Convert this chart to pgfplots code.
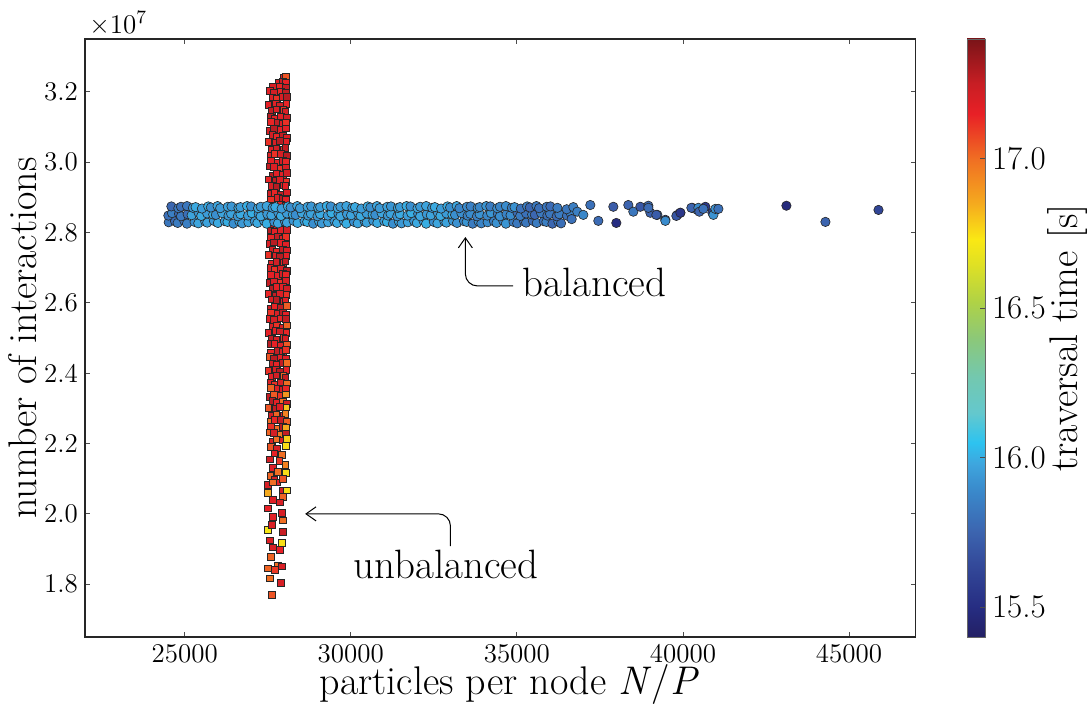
\documentclass[border=0pt]{standalone}
\usepackage{pgfplots}
\usepackage{pgfplotstable}
\pgfplotsset{compat=1.18}
\usetikzlibrary{arrows.meta}

\pgfplotsset{colormap={refjet}{
 rgb255(0pt)=(35,31,100); rgb255(10pt)=(38,45,130); rgb255(25pt)=(52,75,155);
 rgb255(35pt)=(60,100,175); rgb255(50pt)=(58,140,205); rgb255(58pt)=(62,166,222);
 rgb255(65pt)=(45,195,240); rgb255(75pt)=(100,200,205); rgb255(87pt)=(115,200,175);
 rgb255(100pt)=(140,200,120); rgb255(112pt)=(175,210,70); rgb255(125pt)=(225,225,35);
 rgb255(133pt)=(250,232,20); rgb255(145pt)=(245,170,30); rgb255(160pt)=(240,110,35);
 rgb255(175pt)=(232,32,38); rgb255(185pt)=(200,30,36); rgb255(200pt)=(122,20,24)}}

% same colour scale as a shading for the colour bar (15.4 at 25bp, 17.4 at 75bp)
\pgfdeclareverticalshading{cbar}{100bp}{
 rgb(0bp)=(0.137,0.122,0.392); rgb(25bp)=(0.137,0.122,0.392);
 rgb(27.5bp)=(0.149,0.176,0.510); rgb(31.25bp)=(0.204,0.294,0.608);
 rgb(33.75bp)=(0.235,0.392,0.686); rgb(37.5bp)=(0.227,0.549,0.804);
 rgb(39.5bp)=(0.243,0.651,0.871); rgb(41.25bp)=(0.176,0.765,0.941);
 rgb(43.75bp)=(0.392,0.784,0.804); rgb(46.75bp)=(0.451,0.784,0.686);
 rgb(50bp)=(0.549,0.784,0.471); rgb(53bp)=(0.686,0.824,0.275);
 rgb(56.25bp)=(0.882,0.882,0.137); rgb(58.25bp)=(0.980,0.910,0.078);
 rgb(61.25bp)=(0.961,0.667,0.118); rgb(65bp)=(0.941,0.431,0.137);
 rgb(68.75bp)=(0.910,0.125,0.149); rgb(71.25bp)=(0.784,0.118,0.141);
 rgb(75bp)=(0.478,0.078,0.094); rgb(100bp)=(0.478,0.078,0.094)}

% unbalanced runs: x = particles per node, y = interactions, c = traversal time
\pgfplotstableread{
x y c
27990 3.240e7 17.20
28055 3.243e7 17.05
27830 3.226e7 17.18
27960 3.228e7 17.24
28050 3.225e7 17.15
27660 3.213e7 17.20
27860 3.214e7 17.14
28040 3.212e7 17.26
27565 3.203e7 17.17
27690 3.198e7 17.22
27900 3.201e7 17.14
28045 3.196e7 17.26
27640 3.184e7 17.19
27770 3.181e7 17.12
27960 3.186e7 17.20
28065 3.185e7 17.28
27520 3.162e7 17.16
27735 3.165e7 17.17
27875 3.160e7 17.22
28060 3.166e7 17.14
27630 3.145e7 17.26
27760 3.150e7 17.19
27970 3.149e7 17.12
28030 3.144e7 17.20
27575 3.129e7 17.28
27700 3.124e7 17.16
27890 3.130e7 17.17
28070 3.127e7 17.22
27585 3.114e7 17.14
27805 3.113e7 17.26
27945 3.108e7 17.19
28045 3.111e7 17.12
27565 3.088e7 17.20
27690 3.094e7 17.28
27900 3.091e7 17.16
28045 3.096e7 17.17
27640 3.077e7 17.22
27770 3.072e7 17.14
27960 3.075e7 17.26
28065 3.070e7 17.19
27520 3.058e7 17.12
27735 3.055e7 17.20
27875 3.060e7 17.28
28060 3.059e7 17.16
27630 3.036e7 17.17
27760 3.039e7 17.22
27970 3.034e7 17.14
28030 3.040e7 17.26
27575 3.019e7 17.19
27700 3.024e7 17.12
27890 3.023e7 17.20
28070 3.018e7 17.28
27585 3.003e7 17.16
27805 2.998e7 17.17
27945 3.004e7 17.22
28045 3.001e7 17.14
27565 2.988e7 17.26
27690 2.987e7 17.19
27900 2.982e7 17.12
28045 2.985e7 17.20
27640 2.962e7 17.28
27770 2.968e7 17.16
27960 2.965e7 17.17
28065 2.970e7 17.22
27520 2.951e7 17.14
27735 2.946e7 17.26
27875 2.949e7 17.19
28060 2.944e7 17.12
27630 2.932e7 17.20
27760 2.929e7 17.28
27970 2.934e7 17.16
28030 2.933e7 17.17
27575 2.910e7 17.22
27700 2.913e7 17.14
27890 2.908e7 17.26
28070 2.914e7 17.19
27585 2.893e7 17.12
27805 2.898e7 17.20
27945 2.897e7 17.28
28045 2.892e7 17.16
27565 2.877e7 17.17
27690 2.872e7 17.22
27900 2.878e7 17.14
28045 2.875e7 17.26
27640 2.862e7 17.19
27770 2.861e7 17.12
27960 2.856e7 17.20
28065 2.859e7 17.28
27520 2.836e7 17.16
27735 2.842e7 17.17
27875 2.839e7 17.22
28060 2.844e7 17.14
27630 2.825e7 17.26
27760 2.820e7 17.19
27970 2.823e7 17.12
28030 2.818e7 17.20
27575 2.806e7 17.28
27700 2.803e7 17.16
27890 2.808e7 17.17
28070 2.807e7 17.22
27585 2.784e7 17.14
27805 2.787e7 17.26
27945 2.782e7 17.19
28045 2.788e7 17.12
27565 2.767e7 17.20
27690 2.772e7 17.28
27900 2.771e7 17.16
28045 2.766e7 17.17
27640 2.751e7 17.22
27770 2.746e7 17.14
27960 2.752e7 17.26
28065 2.749e7 17.19
27520 2.736e7 17.12
27735 2.735e7 17.20
27875 2.730e7 17.28
28060 2.733e7 17.16
27630 2.710e7 17.17
27760 2.716e7 17.22
27970 2.713e7 17.14
28030 2.718e7 17.26
27575 2.699e7 17.19
27700 2.694e7 17.12
27890 2.697e7 17.20
28070 2.692e7 17.28
27585 2.680e7 17.16
27805 2.677e7 17.17
27945 2.682e7 17.22
28045 2.681e7 17.14
27565 2.658e7 17.26
27690 2.661e7 17.19
27900 2.656e7 17.12
28045 2.662e7 17.20
27640 2.641e7 17.28
27770 2.646e7 17.16
27960 2.645e7 17.17
28065 2.640e7 17.22
27520 2.625e7 17.14
27735 2.620e7 17.26
27875 2.626e7 17.19
28060 2.623e7 17.12
27630 2.610e7 17.20
27760 2.609e7 17.28
27970 2.604e7 17.16
28030 2.607e7 17.17
27575 2.584e7 17.22
27700 2.590e7 17.14
27890 2.587e7 17.26
28070 2.592e7 17.03
27585 2.573e7 17.12
27805 2.568e7 17.20
27945 2.571e7 17.28
28045 2.566e7 17.16
27565 2.554e7 17.17
27690 2.551e7 17.22
27900 2.556e7 17.14
28045 2.555e7 17.26
27640 2.532e7 17.19
27770 2.535e7 17.12
27960 2.530e7 17.20
28065 2.536e7 17.02
27520 2.515e7 17.16
27735 2.520e7 17.17
27875 2.519e7 17.22
28060 2.514e7 17.14
27630 2.499e7 17.26
27760 2.494e7 17.19
27970 2.500e7 17.12
28030 2.497e7 17.20
27575 2.484e7 17.28
27700 2.483e7 17.16
27890 2.478e7 17.17
28070 2.481e7 17.04
27585 2.458e7 17.14
27805 2.464e7 17.26
27945 2.461e7 17.19
28045 2.466e7 17.12
27565 2.447e7 17.05
27690 2.442e7 17.28
27900 2.445e7 17.16
28045 2.440e7 17.17
27640 2.428e7 17.22
27770 2.425e7 17.14
27960 2.430e7 17.26
28065 2.429e7 17.00
27520 2.406e7 17.12
27735 2.409e7 17.20
27875 2.404e7 17.28
28060 2.410e7 17.16
27630 2.389e7 17.17
27760 2.394e7 17.22
27970 2.393e7 17.03
28030 2.388e7 17.26
27575 2.373e7 17.19
27700 2.368e7 17.12
27890 2.374e7 17.20
28070 2.371e7 17.00
27585 2.358e7 17.02
27805 2.357e7 17.17
27945 2.352e7 17.22
28045 2.355e7 17.14
27565 2.332e7 17.26
27690 2.338e7 17.04
27900 2.335e7 17.12
28045 2.340e7 16.90
27640 2.321e7 17.28
27770 2.316e7 17.16
27960 2.319e7 17.00
28065 2.314e7 17.22
27520 2.302e7 17.05
27735 2.299e7 17.26
27875 2.304e7 17.19
28060 2.303e7 16.80
27630 2.280e7 17.20
27760 2.283e7 17.02
27970 2.278e7 17.16
28030 2.284e7 16.95
27575 2.263e7 17.00
27700 2.268e7 17.14
27890 2.267e7 17.26
28070 2.262e7 17.03
27585 2.247e7 17.12
27805 2.242e7 17.00
27945 2.248e7 17.28
28045 2.245e7 16.85
27565 2.232e7 17.02
27690 2.231e7 17.22
27900 2.226e7 16.98
28045 2.229e7 17.26
27640 2.206e7 17.19
27770 2.212e7 17.00
27960 2.209e7 17.20
28065 2.214e7 16.78
27600 2.190e7 17.05
27780 2.185e7 17.20
28054 2.193e7 16.75
27700 2.172e7 17.15
27930 2.168e7 17.00
27560 2.155e7 17.22
27850 2.150e7 17.10
28030 2.140e7 16.95
27650 2.132e7 17.18
27800 2.120e7 17.00
28054 2.116e7 16.75
27580 2.108e7 17.02
27700 2.096e7 17.20
27783 2.090e7 17.15
27960 2.100e7 17.05
27512 2.082e7 17.20
27663 2.090e7 17.00
27964 2.067e7 17.22
28084 2.067e7 16.75
27512 2.059e7 16.85
27964 2.048e7 17.02
27663 2.039e7 17.18
27873 2.033e7 17.20
27512 2.016e7 17.15
27934 2.002e7 17.20
27663 1.991e7 17.17
27964 1.982e7 17.00
27512 1.954e7 16.72
27633 1.968e7 17.20
27964 1.948e7 17.25
27572 1.925e7 17.18
27934 1.917e7 16.75
27663 1.905e7 17.20
27873 1.897e7 17.15
27602 1.877e7 17.02
27813 1.854e7 17.00
27934 1.851e7 17.20
27512 1.845e7 17.02
27723 1.840e7 17.10
27572 1.817e7 17.00
27904 1.803e7 17.20
27633 1.769e7 17.05
}\redtab

% balanced runs
\pgfplotstableread{
x y c
24520 2.829e7 15.82
24710 2.832e7 15.78
24790 2.827e7 15.84
24990 2.833e7 15.80
25070 2.825e7 15.85
25300 2.830e7 15.91
25410 2.826e7 15.98
25620 2.831e7 15.94
25680 2.828e7 15.97
25880 2.833e7 15.93
26000 2.827e7 15.99
26210 2.832e7 15.95
26290 2.830e7 16.00
26470 2.825e7 15.91
26650 2.831e7 15.98
26730 2.826e7 15.94
26920 2.829e7 15.97
27110 2.832e7 15.93
27190 2.827e7 15.99
27390 2.833e7 15.95
27470 2.825e7 16.00
27700 2.830e7 15.91
27810 2.826e7 15.98
28020 2.831e7 15.94
28080 2.828e7 15.97
28280 2.833e7 15.93
28400 2.827e7 15.99
28610 2.832e7 15.95
28690 2.830e7 16.00
28870 2.825e7 15.91
29050 2.831e7 15.98
29130 2.826e7 15.94
29320 2.829e7 15.97
29510 2.832e7 15.93
29590 2.827e7 15.99
29790 2.833e7 15.95
29870 2.825e7 16.00
30100 2.830e7 15.91
30210 2.826e7 15.98
30420 2.831e7 15.94
30480 2.828e7 15.97
30680 2.833e7 15.93
30800 2.827e7 15.99
31010 2.832e7 15.95
31090 2.830e7 16.00
31270 2.825e7 15.91
31450 2.831e7 15.98
31530 2.826e7 15.94
31720 2.829e7 15.97
31910 2.832e7 15.93
31990 2.827e7 15.99
32190 2.833e7 15.95
32270 2.825e7 16.00
32500 2.830e7 15.91
32610 2.826e7 15.98
32820 2.831e7 15.94
32880 2.828e7 15.97
33080 2.833e7 15.93
33200 2.827e7 15.92
33410 2.832e7 15.88
33490 2.830e7 15.93
33670 2.825e7 15.84
33850 2.831e7 15.91
33930 2.826e7 15.87
34120 2.829e7 15.90
34310 2.832e7 15.86
34390 2.827e7 15.92
34590 2.833e7 15.88
34670 2.825e7 15.93
34900 2.830e7 15.84
35010 2.826e7 15.83
35220 2.831e7 15.79
35280 2.828e7 15.82
35480 2.833e7 15.78
35600 2.827e7 15.84
35810 2.832e7 15.80
35890 2.830e7 15.85
36070 2.825e7 15.76
36250 2.831e7 15.83
36330 2.826e7 15.79
24510 2.848e7 15.80
24620 2.855e7 15.85
24830 2.853e7 15.76
24890 2.846e7 15.83
25090 2.852e7 15.79
25210 2.849e7 15.97
25420 2.856e7 15.93
25500 2.847e7 15.99
25680 2.854e7 15.95
25860 2.851e7 16.00
25940 2.850e7 15.91
26130 2.855e7 15.98
26320 2.848e7 15.94
26400 2.853e7 15.97
26600 2.846e7 15.93
26680 2.852e7 15.99
26910 2.848e7 15.95
27020 2.855e7 16.00
27230 2.853e7 15.91
27290 2.846e7 15.98
27490 2.852e7 15.94
27610 2.849e7 15.97
27820 2.856e7 15.93
27900 2.847e7 15.99
28080 2.854e7 15.95
28260 2.851e7 16.00
28340 2.850e7 15.91
28530 2.855e7 15.98
28720 2.848e7 15.94
28800 2.853e7 15.97
29000 2.846e7 15.93
29080 2.852e7 15.99
29310 2.848e7 15.95
29420 2.855e7 16.00
29630 2.853e7 15.91
29690 2.846e7 15.98
29890 2.852e7 15.94
30010 2.849e7 15.97
30220 2.856e7 15.93
30300 2.847e7 15.99
30480 2.854e7 15.95
30660 2.851e7 16.00
30740 2.850e7 15.91
30930 2.855e7 15.98
31120 2.848e7 15.94
31200 2.853e7 15.97
31400 2.846e7 15.93
31480 2.852e7 15.99
31710 2.848e7 15.95
31820 2.855e7 16.00
32030 2.853e7 15.91
32090 2.846e7 15.98
32290 2.852e7 15.94
32410 2.849e7 15.97
32620 2.856e7 15.93
32700 2.847e7 15.99
32880 2.854e7 15.95
33060 2.851e7 16.00
33140 2.850e7 15.91
33330 2.855e7 15.91
33520 2.848e7 15.87
33600 2.853e7 15.90
33800 2.846e7 15.86
33880 2.852e7 15.92
34110 2.848e7 15.88
34220 2.855e7 15.93
34430 2.853e7 15.84
34490 2.846e7 15.91
34690 2.852e7 15.87
34810 2.849e7 15.90
35020 2.856e7 15.78
35100 2.847e7 15.84
35280 2.854e7 15.80
35460 2.851e7 15.85
35540 2.850e7 15.76
35730 2.855e7 15.83
35920 2.848e7 15.79
36000 2.853e7 15.82
36200 2.846e7 15.78
36280 2.852e7 15.84
36510 2.848e7 15.80
36620 2.855e7 15.85
24600 2.874e7 15.76
24810 2.869e7 15.83
24890 2.873e7 15.79
25070 2.875e7 15.82
25250 2.870e7 15.93
25330 2.872e7 15.99
25520 2.868e7 15.95
25710 2.874e7 16.00
25790 2.871e7 15.91
25990 2.875e7 15.98
26070 2.869e7 15.94
26300 2.873e7 15.97
26410 2.874e7 15.93
26620 2.870e7 15.99
26680 2.872e7 15.95
26880 2.875e7 16.00
27000 2.874e7 15.91
27210 2.869e7 15.98
27290 2.873e7 15.94
27470 2.875e7 15.97
27650 2.870e7 15.93
27730 2.872e7 15.99
27920 2.868e7 15.95
28110 2.874e7 16.00
28190 2.871e7 15.91
28390 2.875e7 15.98
28470 2.869e7 15.94
28700 2.873e7 15.97
28810 2.874e7 15.93
29020 2.870e7 15.99
29080 2.872e7 15.95
29280 2.875e7 16.00
29400 2.874e7 15.91
29610 2.869e7 15.98
29690 2.873e7 15.94
29870 2.875e7 15.97
30050 2.870e7 15.93
30130 2.872e7 15.99
30320 2.868e7 15.95
30510 2.874e7 16.00
30590 2.871e7 15.91
30790 2.875e7 15.98
30870 2.869e7 15.94
31100 2.873e7 15.97
31210 2.874e7 15.93
31420 2.870e7 15.99
31480 2.872e7 15.95
31680 2.875e7 16.00
31800 2.874e7 15.91
32010 2.869e7 15.98
32090 2.873e7 15.94
32270 2.875e7 15.97
32450 2.870e7 15.93
32530 2.872e7 15.99
32720 2.868e7 15.95
32910 2.874e7 16.00
32990 2.871e7 15.91
33190 2.875e7 15.98
33270 2.869e7 15.87
33500 2.873e7 15.90
33610 2.874e7 15.86
33820 2.870e7 15.92
33880 2.872e7 15.88
34080 2.875e7 15.93
34200 2.874e7 15.84
34410 2.869e7 15.91
34490 2.873e7 15.87
34670 2.875e7 15.90
34850 2.870e7 15.86
34930 2.872e7 15.92
35120 2.868e7 15.80
35310 2.874e7 15.85
35390 2.871e7 15.76
35590 2.875e7 15.83
35670 2.869e7 15.79
35900 2.873e7 15.82
36010 2.874e7 15.78
36220 2.870e7 15.84
36500 2.866e7 15.82
36650 2.838e7 15.80
36700 2.872e7 15.85
36819 2.859e7 15.85
37211 2.878e7 15.80
37000 2.850e7 15.88
37452 2.833e7 15.78
37904 2.873e7 15.72
37994 2.827e7 15.50
38355 2.878e7 15.75
38506 2.859e7 15.82
38717 2.873e7 15.70
38958 2.876e7 15.78
39018 2.856e7 15.74
39229 2.850e7 15.80
39470 2.836e7 15.68
39831 2.850e7 15.55
39922 2.856e7 15.70
40283 2.870e7 15.75
40434 2.864e7 15.82
38958 2.870e7 15.78
39199 2.850e7 15.72
39470 2.833e7 15.90
39801 2.847e7 15.70
39922 2.856e7 15.55
40253 2.870e7 15.75
40464 2.870e7 15.90
40494 2.859e7 15.75
40675 2.873e7 15.55
40614 2.867e7 15.80
40886 2.856e7 15.60
40916 2.850e7 15.92
40976 2.867e7 15.92
41066 2.867e7 15.80
43114 2.876e7 15.48
44289 2.830e7 15.75
45886 2.864e7 15.62
}\bluetab

\begin{document}
\begin{tikzpicture}
\useasboundingbox (-42.5pt,-33.5pt) rectangle (503.5pt,318.5pt);
\begin{axis}[
  at={(0,0)}, anchor=south west,
  scale only axis, width=415.25pt, height=299pt,
  xmin=22000, xmax=47000, ymin=1.65e7, ymax=3.35e7,
  xtick={25000,30000,35000,40000,45000},
  ytick={1.8e7,2e7,2.2e7,2.4e7,2.6e7,2.8e7,3e7,3.2e7},
  yticklabels={1.8,2.0,2.2,2.4,2.6,2.8,3.0,3.2},
  scaled x ticks=false, scaled y ticks=false,
  xticklabel style={/pgf/number format/1000 sep={}, /pgf/number format/assume math mode=true, inner sep=0.5pt, yshift=-3pt},
  tick align=inside, major tick length=2.5pt,
  tick style={black!70, line width=0.4pt},
  axis line style={black!85, line width=0.7pt},
  tick label style={font=\fontsize{13.5}{16}\selectfont},
  label style={font=\fontsize{20}{24}\selectfont},
  xlabel={particles per node \textit{N}/\textit{P}},
  xlabel style={at={(rel axis cs:0.5108,-0.097)}, anchor=base, inner sep=0pt},
  ylabel={number of interactions},
  ylabel style={at={(rel axis cs:-0.0578,0.5)}, anchor=base, inner sep=0pt},
  colormap name=refjet,
  point meta min=15.4, point meta max=17.4,
]
\addplot[scatter, only marks, mark=square*, mark size=1.7pt, scatter src=explicit,
  scatter/use mapped color={draw=black!85, fill=mapped color},
  mark options={line width=0.3pt}]
  table[x=x, y=y, meta=c] {\redtab};
\addplot[scatter, only marks, mark=*, mark size=2.35pt, scatter src=explicit,
  scatter/use mapped color={draw=black!85, fill=mapped color},
  mark options={line width=0.3pt}]
  table[x=x, y=y, meta=c] {\bluetab};
\draw[line width=0.5pt, -{Straight Barb[length=5pt,width=7pt]}, rounded corners=6pt]
  (axis cs:34890,2.648e7) -| (axis cs:33450,2.787e7);
\node[anchor=base west, inner sep=0pt, font=\fontsize{20.5}{24}\selectfont] at (axis cs:35153,2.6175e7) {balanced};
\draw[line width=0.5pt, -{Straight Barb[length=5pt,width=7pt]}, rounded corners=6pt]
  (axis cs:33000,1.908e7) |- (axis cs:28627,2.0e7);
\node[anchor=base west, inner sep=0pt, font=\fontsize{20.5}{24}\selectfont] at (axis cs:30072,1.817e7) {unbalanced};
\end{axis}
\node[anchor=base west, inner sep=0pt, font=\fontsize{13.5}{16}\selectfont] at (2pt,301.5pt) {×10\textsuperscript{7}};
% colour bar
\begin{axis}[
  at={(441pt,299pt)}, anchor=north west,
  scale only axis, width=9pt, height=299pt,
  xmin=0, xmax=1, ymin=15.4, ymax=17.4,
  xtick=\empty,
  ytick={15.5,16,16.5,17},
  yticklabels={15.5,16.0,16.5,17.0},
  yticklabel pos=right, ytick pos=right,
  tick align=inside, major tick length=2.5pt,
  tick style={black!70, line width=0.4pt},
  axis line style={black!60, line width=0.4pt},
  axis on top,
  yticklabel style={font=\fontsize{16.5}{19}\selectfont},
  ylabel={traversal time [s]},
  ylabel style={font=\fontsize{20}{24}\selectfont, at={(rel axis cs:6.15,0.5)}, anchor=base, inner sep=0pt},
]
\shade[shading=cbar] (rel axis cs:0,0) rectangle (rel axis cs:1,1);
\end{axis}
\end{tikzpicture}
\end{document}
